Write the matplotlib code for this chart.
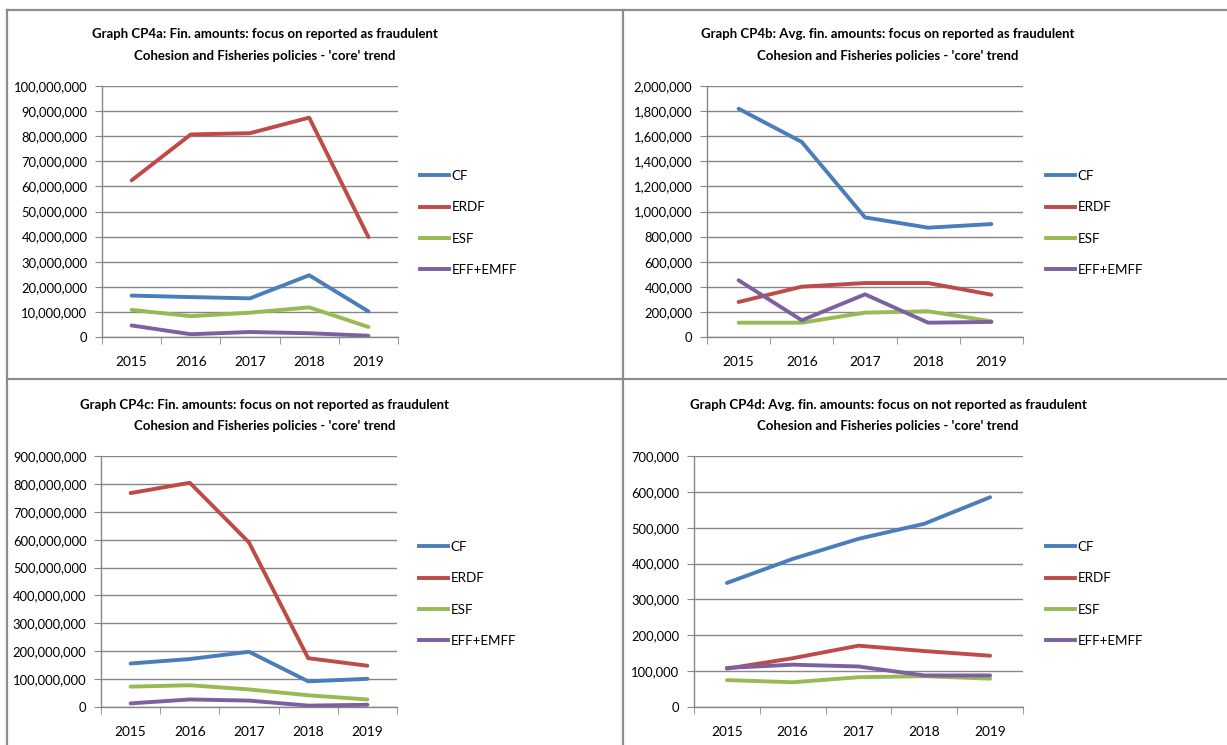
import numpy as np
import matplotlib
matplotlib.use("Agg")
import matplotlib.pyplot as plt
from matplotlib.ticker import FuncFormatter, FixedLocator, MultipleLocator
from matplotlib.lines import Line2D

plt.rcParams['font.family'] = ['Lato', 'DejaVu Sans']

years = ['2015', '2016', '2017', '2018', '2019']
series_names = ['CF', 'ERDF', 'ESF', 'EFF+EMFF']
colors = ['#4A7EBB', '#BE4B48', '#98B954', '#7D60A0']

# CP4a: financial amounts, reported as fraudulent
a_cf = [16.5e6, 15.9e6, 15.4e6, 24.6e6, 10.2e6]
a_erdf = [62.4e6, 80.7e6, 81.2e6, 87.4e6, 39.8e6]
a_esf = [10.8e6, 8.3e6, 9.7e6, 11.8e6, 4.0e6]
a_eff = [4.6e6, 1.1e6, 2.0e6, 1.5e6, 0.5e6]

# CP4b: average amounts, reported as fraudulent
b_cf = [1819000, 1554000, 953000, 871000, 900000]
b_erdf = [279000, 401000, 430000, 430000, 337000]
b_esf = [114000, 114000, 194000, 205000, 125000]
b_eff = [452000, 133000, 340000, 114000, 120000]

# CP4c: financial amounts, not reported as fraudulent
c_cf = [156e6, 172e6, 198e6, 92e6, 101e6]
c_erdf = [767e6, 804e6, 590e6, 175e6, 148e6]
c_esf = [73e6, 78e6, 63e6, 42e6, 27e6]
c_eff = [13e6, 27e6, 23e6, 5e6, 8e6]

# CP4d: average amounts, not reported as fraudulent
d_cf = [346000, 413000, 469000, 511000, 585000]
d_erdf = [107000, 136000, 171000, 156000, 143000]
d_esf = [75000, 69000, 83000, 86000, 79000]
d_eff = [109000, 118000, 113000, 88000, 88000]

W, H = 1227, 745
fig = plt.figure(figsize=(W / 100, H / 100), dpi=100)

grid_col = '#868686'
lw = 2.8


def px_axes(left, top, right, bottom):
    return fig.add_axes([left / W, 1 - bottom / H, (right - left) / W, (bottom - top) / H])


def draw_panel(box, title, data, ymax, ystep, title_xy, legend_xy):
    ax = px_axes(*box)
    x = np.arange(len(years))
    for vals, name, col in zip(data, series_names, colors):
        ax.plot(x, vals, color=col, lw=lw, label=name, solid_capstyle='round',
                solid_joinstyle='round')
    ax.set_xlim(-0.5, len(years) - 0.5)
    ax.set_ylim(0, ymax)
    ax.yaxis.set_major_locator(MultipleLocator(ystep))
    ax.yaxis.set_major_formatter(FuncFormatter(lambda v, p: f'{v:,.0f}'))
    ax.set_xticks(x)
    ax.set_xticklabels(years)
    ax.xaxis.set_minor_locator(FixedLocator(np.arange(-0.5, len(years), 1.0)))
    ax.tick_params(axis='x', which='major', length=0, pad=14, labelsize=9.8)
    ax.tick_params(axis='x', which='minor', length=5, color=grid_col, direction='out')
    ax.tick_params(axis='y', length=5, color=grid_col, direction='out', pad=5.5, labelsize=9.4)
    ax.grid(True, axis='y', color=grid_col, lw=1.0)
    ax.set_axisbelow(True)
    for s in ['top', 'right']:
        ax.spines[s].set_visible(False)
    for s in ['left', 'bottom']:
        ax.spines[s].set_color(grid_col)
        ax.spines[s].set_linewidth(1.0)
    fig.text(title_xy[0] / W, 1 - title_xy[1] / H, title, ha='center', va='top',
             fontsize=9.5, fontweight='bold', linespacing=1.95)
    handles = [Line2D([], [], color=c, lw=lw) for c in colors]
    fig.legend(handles, series_names, loc='upper left',
               bbox_to_anchor=(legend_xy[0] / W, 1 - legend_xy[1] / H),
               frameon=False, handlelength=2.2, handletextpad=0.15,
               labelspacing=1.45, fontsize=9.6, borderpad=0, borderaxespad=0)
    return ax


draw_panel((102, 86, 398, 337),
           "Graph CP4a: Fin. amounts: focus on reported as fraudulent\n"
           "Cohesion and Fisheries policies - 'core' trend",
           [a_cf, a_erdf, a_esf, a_eff], 100e6, 10e6, (265, 28), (420, 170))
draw_panel((707, 86, 1023, 337),
           "Graph CP4b: Avg. fin. amounts: focus on reported as fraudulent\n"
           "Cohesion and Fisheries policies - 'core' trend",
           [b_cf, b_erdf, b_esf, b_eff], 2e6, 200000, (888, 28), (1046, 170))
draw_panel((101, 456, 397, 707),
           "Graph CP4c: Fin. amounts: focus on not reported as fraudulent\n"
           "Cohesion and Fisheries policies - 'core' trend",
           [c_cf, c_erdf, c_esf, c_eff], 900e6, 100e6, (265, 399), (419, 541))
draw_panel((694, 456, 1023, 707),
           "Graph CP4d: Avg. fin. amounts: focus on not reported as fraudulent\n"
           "Cohesion and Fisheries policies - 'core' trend",
           [d_cf, d_erdf, d_esf, d_eff], 700000, 100000, (888, 399), (1046, 541))

# panel frames
border = '#8C8C8C'
frame_lines = [
    ((7, 7), (10, 745)),
    ((7, 1227), (10, 10)),
    ((623, 623), (10, 745)),
    ((7, 1227), (379, 379)),
]
for xs, ys in frame_lines:
    fig.add_artist(Line2D([v / W for v in xs], [1 - v / H for v in ys],
                          transform=fig.transFigure, color=border, lw=1.6))

fig.savefig('out.png', dpi=100)
